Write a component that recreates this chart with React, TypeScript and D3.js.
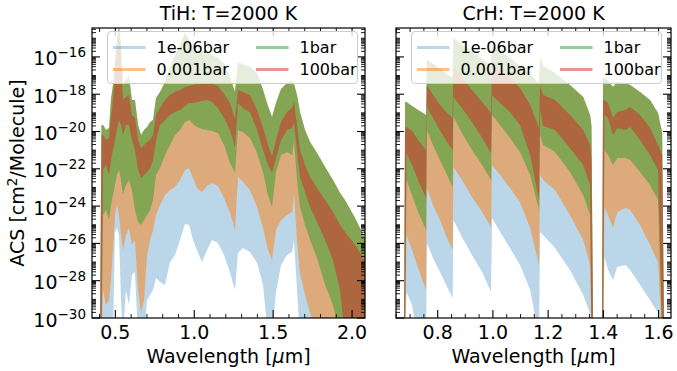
import React from 'react';
import * as d3 from 'd3';

const WIDTH = 677;
const HEIGHT = 371;
const FONT = "'DejaVu Sans', sans-serif";

const PRESSURE_LABELS = ['1e-06bar', '0.001bar', '1bar', '100bar'];
const PRESSURE_COLORS = ['#1f77b4', '#ff7f0e', '#2ca02c', '#d62728'];
const PRESSURE_ALPHA = [0.3, 0.5, 0.5, 0.5];

// y axis in log10(ACS)
const Y_MIN_EXP = -30;
const Y_MAX_EXP = -14.45;
const Y_LABEL_EXPS = [-30, -28, -26, -24, -22, -20, -18, -16];

const TIH_XTICKS = [0.5, 1.0, 1.5, 2.0];
const CRH_XTICKS = [0.8, 1.0, 1.2, 1.4, 1.6];

// TiH, T=2000 K : wavelength [um], envelopes as log10(ACS [cm2/molecule]); -31 = below the axis
const tihWl = [0.403, 0.412, 0.422, 0.441, 0.460, 0.472, 0.485, 0.498, 0.510, 0.523,
  0.536, 0.548, 0.567, 0.586, 0.605, 0.624, 0.644, 0.663, 0.682, 0.701,
  0.720, 0.739, 0.758, 0.783, 0.815, 0.846, 0.878, 0.910, 0.941, 0.967,
  0.992, 1.017, 1.049, 1.081, 1.112, 1.150, 1.189, 1.227, 1.258, 1.277,
  1.309, 1.353, 1.398, 1.436, 1.467, 1.493, 1.518, 1.550, 1.588, 1.620,
  1.632, 1.651, 1.670, 1.702, 1.734, 1.778, 1.829, 1.879, 1.924, 1.955,
  2.019, 2.088];
const tihTop = [-31, -19.65, -19.65, -19.92, -19.81, -18.31, -17.51, -16.17, -15.09, -14.34,
  -15.36, -17.51, -17.24, -17.02, -18.31, -18.31, -19.65, -20.19, -19.92, -19.76,
  -19.49, -19.38, -18.20, -17.88, -17.35, -16.60, -15.90, -15.36, -14.72, -15.09,
  -15.47, -15.68, -15.74, -15.74, -15.90, -16.06, -16.38, -17.08, -17.88, -16.33,
  -16.38, -16.54, -16.86, -17.77, -18.63, -19.22, -18.47, -17.72, -17.40, -17.29,
  -17.45, -18.04, -18.95, -19.92, -20.56, -21.15, -21.90, -22.60, -23.30, -23.67,
  -24.64, -25.82];
const tihRedHi = [-31, -20.19, -20.19, -20.46, -20.35, -19.28, -18.31, -16.97, -15.90, -14.83,
  -16.17, -18.31, -18.15, -18.04, -19.12, -19.28, -20.46, -20.88, -20.72, -20.56,
  -20.46, -20.19, -19.12, -18.74, -18.31, -18.04, -17.88, -17.77, -17.61, -17.56,
  -17.51, -17.45, -17.40, -17.35, -17.45, -17.56, -17.99, -18.47, -19.38, -17.77,
  -17.88, -18.04, -18.85, -19.81, -20.72, -21.37, -20.46, -19.49, -18.95, -18.74,
  -18.42, -19.65, -20.99, -21.80, -22.44, -23.03, -23.67, -24.32, -25.01, -25.39,
  -26.09, -27.00];
const tihRedLo = [-31, -31, -22.06, -21.80, -22.33, -21.53, -20.99, -20.46, -19.92, -19.38,
  -19.65, -20.19, -19.65, -19.65, -20.46, -20.99, -22.06, -22.49, -22.33, -22.17,
  -21.96, -21.53, -20.46, -19.65, -19.38, -19.12, -18.95, -18.85, -18.63, -18.47,
  -18.47, -18.42, -18.36, -18.31, -18.42, -18.74, -19.28, -19.92, -20.83, -18.47,
  -18.74, -18.95, -19.92, -20.99, -21.80, -22.23, -21.42, -20.46, -19.92, -19.81,
  -19.49, -20.99, -22.44, -23.24, -24.05, -24.85, -25.82, -26.89, -28.50, -31,
  -31, -31];
const tihGreenLo = [-31, -31, -24.48, -24.21, -24.75, -23.94, -23.40, -22.87, -22.33, -22.06,
  -22.60, -23.40, -22.87, -22.60, -23.14, -24.21, -24.85, -25.01, -24.75, -24.48,
  -24.21, -23.67, -22.33, -21.96, -21.26, -20.72, -20.19, -19.92, -19.49, -19.38,
  -19.60, -19.76, -19.87, -19.92, -19.97, -20.08, -20.72, -21.69, -22.23, -19.92,
  -20.03, -20.35, -21.15, -22.17, -23.40, -24.05, -22.17, -21.26, -21.10, -21.26,
  -20.46, -22.60, -24.05, -25.01, -25.82, -26.78, -28.23, -29.30, -31, -31,
  -31, -31];
const tihOrangeLo = [-31, -31, -28.50, -29.30, -29.03, -27.96, -26.35, -24.48, -23.94, -24.48,
  -25.55, -26.35, -25.55, -25.17, -26.09, -25.82, -28.50, -29.73, -29.03, -26.62,
  -25.82, -25.28, -24.48, -23.94, -23.40, -23.14, -22.98, -22.60, -22.06, -21.96,
  -22.49, -23.03, -23.24, -22.92, -22.76, -22.92, -23.57, -24.37, -25.28, -22.44,
  -22.71, -23.14, -24.05, -25.17, -26.35, -26.89, -25.28, -24.75, -24.48, -24.32,
  -23.40, -25.82, -27.59, -28.77, -29.73, -31, -31, -31, -31, -31,
  -31, -31];
const tihBlueLo = [-31, -31, -31, -31, -31, -31, -31, -25.39, -25.17, -25.55,
  -29.03, -31, -28.50, -29.30, -27.69, -27.53, -31, -31, -31, -29.03,
  -28.77, -28.50, -27.86, -28.07, -28.23, -27.00, -26.62, -25.82, -24.96, -25.01,
  -25.82, -26.35, -27.00, -26.35, -25.82, -25.98, -26.62, -27.59, -28.50, -26.51,
  -26.25, -26.46, -27.05, -28.23, -31, -31, -28.61, -27.16, -26.62, -26.46,
  -25.82, -28.50, -31, -31, -31, -31, -31, -31, -31, -31,
  -31, -31];

// CrH, T=2000 K
const crhWl = [0.678, 0.682, 0.687, 0.707, 0.729, 0.758, 0.761, 0.783, 0.808, 0.834,
  0.854, 0.857, 0.888, 0.924, 0.961, 0.993, 0.997, 1.026, 1.062, 1.098,
  1.135, 1.167, 1.171, 1.182, 1.225, 1.279, 1.327, 1.352, 1.357, 1.363,
  1.395, 1.399, 1.404, 1.417, 1.435, 1.450, 1.479, 1.497, 1.533, 1.569,
  1.598, 1.613, 1.620];
const crhTop = [-31, -18.42, -18.42, -18.63, -18.85, -19.12, -16.17, -16.38, -16.65, -16.92,
  -17.13, -14.99, -15.36, -15.74, -16.11, -16.49, -15.42, -15.68, -16.06, -16.49,
  -16.92, -17.45, -16.01, -16.49, -16.86, -17.51, -18.15, -19.12, -19.71, -31,
  -31, -17.13, -17.13, -17.29, -17.61, -17.35, -17.40, -17.51, -17.88, -18.31,
  -19.01, -20.08, -31];
const crhRedHi = [-31, -19.76, -19.76, -19.97, -20.46, -20.99, -17.51, -18.04, -18.58, -19.01,
  -19.28, -16.54, -17.13, -17.77, -18.42, -19.01, -16.27, -16.70, -17.13, -17.67,
  -18.58, -19.81, -17.51, -18.04, -18.31, -19.12, -19.92, -20.72, -21.53, -31,
  -31, -18.31, -18.31, -18.47, -19.28, -18.95, -18.85, -18.69, -19.12, -19.81,
  -20.72, -21.26, -31];
const crhRedLo = [-31, -31, -21.15, -21.80, -22.60, -23.57, -18.69, -19.28, -19.92, -20.56,
  -20.99, -18.15, -18.74, -19.49, -20.35, -21.15, -18.04, -18.47, -18.95, -19.65,
  -21.26, -23.67, -18.85, -19.71, -19.92, -20.88, -21.80, -22.87, -31, -31,
  -31, -31, -19.12, -19.28, -20.19, -19.81, -19.92, -19.76, -20.46, -21.26,
  -22.06, -31, -31];
const crhGreenLo = [-31, -31, -22.60, -23.40, -24.32, -25.28, -19.92, -20.72, -21.53, -22.33,
  -22.98, -19.22, -20.08, -20.99, -21.80, -22.60, -19.12, -19.65, -20.35, -21.10,
  -22.33, -24.21, -20.19, -20.72, -21.10, -22.17, -23.40, -24.48, -31, -31,
  -31, -31, -20.99, -21.26, -21.80, -21.42, -21.42, -21.53, -22.17, -22.87,
  -23.67, -31, -31];
const crhOrangeLo = [-31, -31, -25.55, -26.35, -27.32, -28.50, -23.03, -23.94, -24.75, -25.71,
  -26.35, -21.90, -22.60, -23.51, -24.32, -25.12, -21.80, -22.33, -23.03, -23.78,
  -25.17, -27.16, -22.33, -22.60, -23.14, -24.48, -25.82, -27.16, -31, -31,
  -31, -31, -24.05, -24.48, -25.17, -24.32, -24.10, -24.21, -25.01, -26.09,
  -27.00, -31, -31];
const crhBlueLo = [-31, -31, -28.61, -29.30, -31, -31, -25.98, -26.78, -27.53, -28.34,
  -28.93, -24.75, -25.66, -26.62, -27.53, -28.61, -24.64, -25.39, -26.25, -27.16,
  -28.50, -31, -25.39, -25.55, -26.25, -27.43, -28.77, -29.73, -31, -31,
  -31, -31, -26.73, -27.43, -27.96, -27.27, -27.16, -27.43, -28.23, -29.03,
  -29.73, -31, -31];

// layout
const PLOT_TOP = 28;
const PLOT_BOTTOM = 318;
const MAJOR_LEN = 8;
const MINOR_LEN = 4;

const PANELS = [
  {
    id: 'tih', title: 'TiH: T=2000 K', left: 92, right: 365, xDomain: [0.352, 2.082],
    xMajor: TIH_XTICKS, minorStep: 0.1, yLabels: true,
    wl: tihWl, top: tihTop, bands: [tihBlueLo, tihOrangeLo, tihGreenLo, tihRedLo], redHi: tihRedHi,
  },
  {
    id: 'crh', title: 'CrH: T=2000 K', left: 396, right: 671, xDomain: [0.649, 1.645],
    xMajor: CRH_XTICKS, minorStep: 0.05, yLabels: false,
    wl: crhWl, top: crhTop, bands: [crhBlueLo, crhOrangeLo, crhGreenLo, crhRedLo], redHi: crhRedHi,
  },
];

const yScale = d3.scaleLog()
  .domain([Math.pow(10, Y_MIN_EXP), Math.pow(10, Y_MAX_EXP)])
  .range([PLOT_BOTTOM, PLOT_TOP]);

// log ticks: every decade with 2..9 subs
const yTicks: { v: number; major: boolean }[] = [];
for (let n = Y_MIN_EXP; n <= Math.ceil(Y_MAX_EXP); n++) {
  for (let k = 1; k <= 9; k++) {
    const v = k * Math.pow(10, n);
    if (Math.log10(v) > Y_MAX_EXP) continue;
    yTicks.push({ v, major: k === 1 && n % 2 === 0 });
  }
}

function Panel({ p }: { p: any }) {
  const x = d3.scaleLinear().domain(p.xDomain).range([p.left, p.right]);
  const area = d3.area<any>()
    .x((d) => x(d.w))
    .y0((d) => yScale(Math.pow(10, d.lo)))
    .y1((d) => yScale(Math.pow(10, d.hi)));

  const paths = p.bands.map((lo: number[], i: number) => {
    const hi = i === 3 ? p.redHi : p.top;
    const rows = p.wl.map((w: number, j: number) => ({ w, lo: lo[j], hi: hi[j] }));
    return area(rows);
  });

  // minor x ticks
  const step = p.minorStep;
  const xMinor = d3.range(Math.ceil(p.xDomain[0] / step), Math.floor(p.xDomain[1] / step) + 1)
    .map((i) => +(i * step).toFixed(3))
    .filter((v) => !p.xMajor.some((m: number) => Math.abs(m - v) < 1e-6));

  const cx = (p.left + p.right) / 2;
  const fmt = d3.format('.1f');

  return (
    <g>
      <defs>
        <clipPath id={`clip-${p.id}`}>
          <rect x={p.left} y={PLOT_TOP} width={p.right - p.left} height={PLOT_BOTTOM - PLOT_TOP} />
        </clipPath>
      </defs>
      <g clipPath={`url(#clip-${p.id})`}>
        {paths.map((d: string, i: number) => (
          <path key={i} d={d} fill={PRESSURE_COLORS[i]} fillOpacity={PRESSURE_ALPHA[i]} stroke="none" />
        ))}
      </g>

      {/* y ticks, both sides, inward */}
      {yTicks.map((t, i) => {
        const yy = yScale(t.v);
        const len = t.major ? MAJOR_LEN : MINOR_LEN;
        return (
          <g key={`y${i}`} stroke="#000" strokeWidth={t.major ? 1.1 : 0.9}>
            <line x1={p.left} x2={p.left + len} y1={yy} y2={yy} />
            <line x1={p.right} x2={p.right - len} y1={yy} y2={yy} />
          </g>
        );
      })}
      {/* x ticks, top and bottom, inward */}
      {[...p.xMajor.map((v: number) => ({ v, major: true })), ...xMinor.map((v: number) => ({ v, major: false }))].map((t: any, i: number) => {
        const xx = x(t.v);
        const len = t.major ? MAJOR_LEN : MINOR_LEN;
        return (
          <g key={`x${i}`} stroke="#000" strokeWidth={t.major ? 1.1 : 0.9}>
            <line x1={xx} x2={xx} y1={PLOT_BOTTOM} y2={PLOT_BOTTOM - len} />
            <line x1={xx} x2={xx} y1={PLOT_TOP} y2={PLOT_TOP + len} />
          </g>
        );
      })}

      <rect x={p.left} y={PLOT_TOP} width={p.right - p.left} height={PLOT_BOTTOM - PLOT_TOP}
        fill="none" stroke="#000" strokeWidth={1.2} />

      {/* x tick labels */}
      {p.xMajor.map((v: number) => (
        <text key={v} x={x(v)} y={338.5} textAnchor="middle" fontSize={19}>{fmt(v)}</text>
      ))}
      {/* y tick labels */}
      {p.yLabels && Y_LABEL_EXPS.map((e) => (
        <text key={e} x={86} y={yScale(Math.pow(10, e)) + 8.5} textAnchor="end" fontSize={19}>
          10<tspan dy={-8} fontSize={13.5}>{`\u2212${Math.abs(e)}`}</tspan>
        </text>
      ))}

      <text x={cx} y={19.5} textAnchor="middle" fontSize={19}>{p.title}</text>
      <text x={cx} y={362.5} textAnchor="middle" fontSize={19}>
        Wavelength [<tspan fontStyle="italic">μ</tspan>m]
      </text>

      {/* legend */}
      <g transform={`translate(${p.left + 15.5},31.5)`}>
        <rect width={250} height={52} rx={3.5} fill="#fff" fillOpacity={0.8} stroke="#cccccc" strokeWidth={1} />
        {PRESSURE_LABELS.map((lab, i) => {
          const col = Math.floor(i / 2);
          const row = i % 2;
          const lx = 5.5 + col * 143;
          const ly = 16 + row * 22;
          return (
            <g key={lab}>
              <line x1={lx} x2={lx + 32.5} y1={ly} y2={ly} stroke={PRESSURE_COLORS[i]}
                strokeOpacity={PRESSURE_ALPHA[i]} strokeWidth={3} />
              <text x={lx + 43.5} y={ly + 5.8} fontSize={16}>{lab}</text>
            </g>
          );
        })}
      </g>
    </g>
  );
}

export default function App() {
  return (
    <svg width={WIDTH} height={HEIGHT} viewBox={`0 0 ${WIDTH} ${HEIGHT}`}
      style={{ position: 'absolute', left: 0, top: 0, background: '#fff' }}
      fontFamily={FONT} fill="#000">
      {PANELS.map((p) => <Panel key={p.id} p={p} />)}
      <text transform={`translate(24,${(PLOT_TOP + PLOT_BOTTOM) / 2}) rotate(-90)`} textAnchor="middle" fontSize={19}>
        ACS [cm<tspan dy={-7.5} fontSize={13.5}>2</tspan><tspan dy={7.5}>/Molecule]</tspan>
      </text>
    </svg>
  );
}
